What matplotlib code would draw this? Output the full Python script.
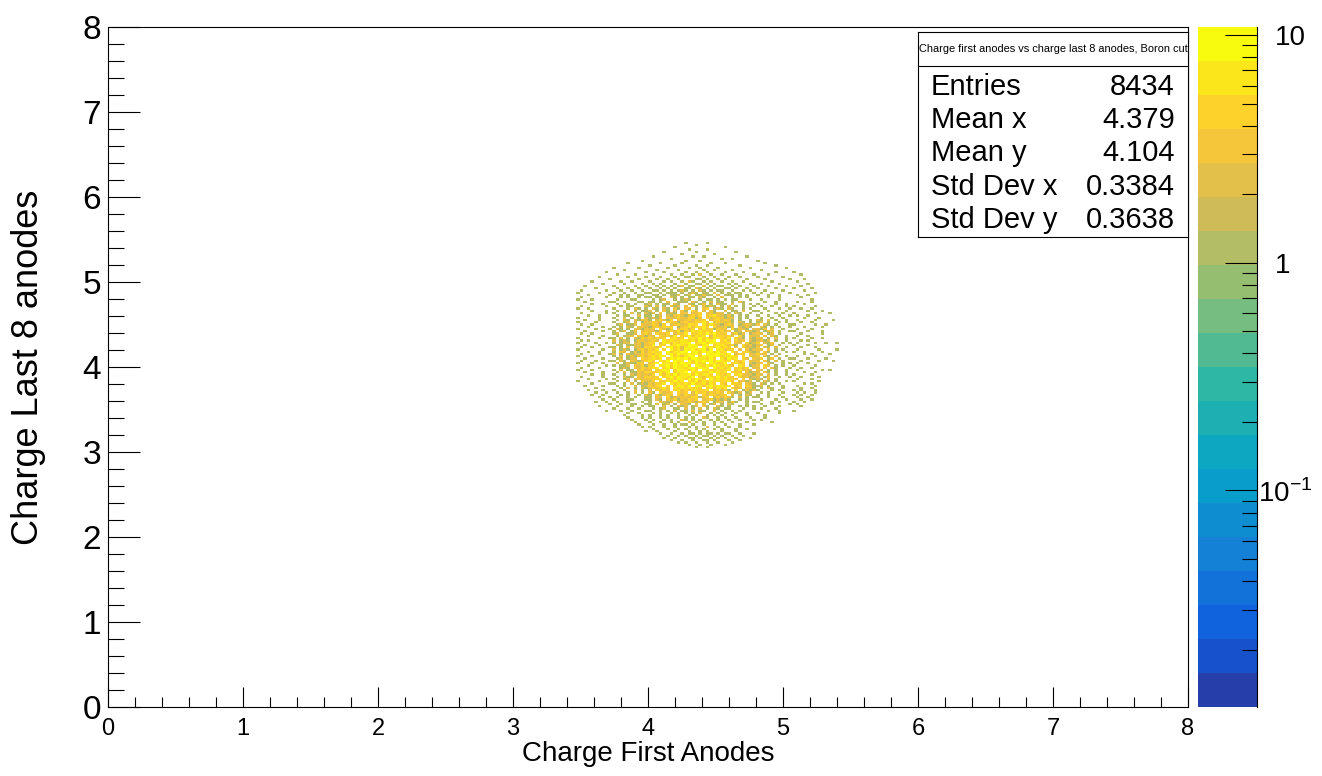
import numpy as np
import matplotlib
matplotlib.use("Agg")
import matplotlib.pyplot as plt
from matplotlib.colors import ListedColormap, BoundaryNorm
from matplotlib.ticker import FixedLocator, NullFormatter, MultipleLocator, LogLocator
from matplotlib.transforms import blended_transform_factory

plt.rcParams['font.family'] = ['Liberation Sans', 'DejaVu Sans']
plt.rcParams['mathtext.fontset'] = 'custom'
plt.rcParams['mathtext.rm'] = 'Liberation Sans'

# histogram definition (TH2: 300 x 300 bins on [0, 8] x [0, 8])
n_bins = 300
axis_range = (0.0, 8.0)
first_bin = 130      # x bin of the first column in count_rows
top_bin = 204        # y bin of the first row in count_rows
n_cols = 74

# bin contents, one string per y bin (top row first)
# '.' = empty, 1-9, a = 10 ; spaces only group the columns by ten
count_rows = [
    ".......... .......... .......... 1.....1",
    ".......... .......... .......... ...1",
    ".......... .......... .......1.. .......... .1",
    ".......... .......... .......... .1....1",
    ".......... .......... ....1..... ...1...... ....1",
    ".......... .......... .........1 ........1",
    ".......... .......... .1........ ..1..1.... .......1",
    ".......... .......... ......1... .......... 1..1",
    ".......... ........1. .......... 1...1..... .......... 1",
    ".......... ....1..... ...1.....1 .......1.. .1........ ..1",
    ".......... .......... 1......1.. ...1..1... .....1.... .....1",
    ".......... 1......1.. .....1.... .1..1....1 ........1. ........1",
    ".......... ...1...... ..1.....1. .....1..1. ...1...... .1",
    "........1. .........1 ....1..... 1..1..1... .1....1... .....1.... 1",
    ".......... .1....1... .1....1..1 ..1.2..1.. 1...1....1 ...1...... ..1",
    "......1... ....1....1 ...1...1.. 11...1..1. ..1..1.... 1......1",
    ".........1 .......1.. ..1..1..1. ...11.1..1 .1.....1.. ..1......1 ...1",
    "....1..... ..1..1.... 1...1.1..1 .21..1.1.. 1..1..1... ....1..... .1",
    ".......1.. ...1....1. .1.1...1.. 1..11.1.1. ..1.1...1. .1....1... ....1",
    "..1....... 1.....1..1 ..1.1.1.12 .11..2.1.1 1..1.1...1 ...1....1. ..1",
    ".....1.... .1..1..1.. 1..1.1.1.. 11.21.1.1. .11.1..1.. 1....1.... 1....1",
    ".1......1. ..1..1..1. .11.1.1.12 1.1.21.1.1 1..1..1.1. ..1....1.. ...1",
    "1.....1... 1..1..1..1 1..1.111.1 .121.11.2. 1.1.11...1 .1..1....1 ......1",
    "...1.....1 ..1.1..11. .11.1.112. 12.11311.2 .111.1.1.. 1..1..1... .1..1",
    ".1......1. ..1.1..1.1 1.11..21.1 .11.21..1. 2..1.1.1.. ...1..1... ..1",
    "1...1..... .1...11... .1.12..1.1 21..1.11.1 .1.11...1. .1....1... .....1",
    "..1......1 1..1...11. 11.1.2..11 1.21.1.2.1 1..1.21... ..1..1.... .1...1",
    "....1..1.. .1..1.1..1 2.1.11.21. .21.13.1.2 11.2..1.1. 1....1..1. ...1",
    ".1......1. ..1.11...2 1.2.1.312. 2.31.2121. 1.2.1.1..1 .1..1...1. 1.....1",
    "1..1...... 1...1.21.1 .21.21.31. 32.1.34.12 1.21..1.1. ..1...1..1 ..1..1",
    "....1...1. .1.2..1.11 2.1.31.2.3 1.42.2.31. .2.11.2..1 1..1....1. ....1...1",
    ".1......1. 1..1.2.1.2 12.3.121.3 3.234.2313 2.1.21..1. .1...1.1.. 1.....1... 1",
    "...1..1... .1.11..2.1 1.12.21342 13524.3463 2131.1.1.. 1..1..1..1 .1..1",
    "1.....1... 1..2.1.1.2 1213.32243 25413.5234 3122.1.1.. .1..1..1.. ...1...1",
    "..1...1... .1.21.2132 1.24214.32 352435.245 2431.1..1. 21.2.1..1. .1....1... .1",
    "1....1.... 1..12.2.13 2432.45313 4235463.24 3231.21.1. 12.1..1.1. ..1..1....",
    ".1..1..... .12.112.32 25314.2342 3654.63752 1342.12321 3.21.1...1 1.....1..1",
    "...1...1.. 1.1.21.232 1352454.13 5736465.52 2413.2131. .21.1.1..1 ...1....1.",
    "1....1...1 .21.1.2213 23.4214.35 425.363415 32.41321.2 213.2..1.. .1...1....",
    "..1....1.. 1.12.13.23 3214.25361 53647455.3 423.12.321 2.132.1..1 1...1...1.",
    ".1..1..... 12..112.34 2.5334.253 6.45758584 34.2513.12 32.12.1... ..1.....1.",
    "...1...1.. .1.122.331 32.43526.4 583647.265 4352.41.32 2.3.21..1. .1..1.....",
    "1.....1..1 1.2.1.2143 42534.4635 .674856376 536.421.21 32.1.2..1. 1....1..1.",
    ".1.1...... 2.121.1332 342.647557 756384968. 463.523.21 2312.1..1. ..1.1.....",
    "1....1..1. 1.122.2313 45.2663647 6a.4795876 546.32.412 4.213..1.1 .1....1..1 ..1",
    "..1...1... .21.112313 36.45.5786 58a6379.46 65341.4231 23.12.1... 1...1.....",
    ".1..1....1 1.1.3.2214 4536.68472 7968.a4758 564.3.4221 3.21.2..1. ..1...1...",
    "1......1.. 2.121.1342 536.4.8572 86a57928.6 6354.2.312 32.3.1.1.. .1.....1.. ..1",
    "...1..1... 1.32.13142 4657.83678 9.685a7948 57.63.5421 2.31.1..1. 1..1....1.",
    ".1....1..1 2.1.312243 5367.69486 7a695.879a 648.253.32 423.1.1... ...1.1.... 1",
    "1...1..... 1.2.131342 57486.9573 698.5a7869 47685.4.32 3.21.2..1. .1....1...",
    "..1....1.. .12.122.43 4657.49786 859a67485. 63857.42.3 24.13.1..1 1...1....1",
    ".1...1...1 1.21.32125 63.748.976 .95a786958 746.537.32 3.31.2.1.. ..1....1.. .1",
    "1...1..1.. .2.121143. 358.674958 784956.a74 58.4634.21 23.21..1.1 .1..1.....",
    "...1....1. 1.112.3241 54.6785976 85.9748597 4653.74.12 3.42.1.1.. 1.....1...",
    ".1....1... ..121.3243 476.493867 5a84967.85 637.4534.2 2.3.21...1 ..1..1....",
    "1...1..... 1.2.11.342 3.4587.586 7485.96457 546.37232. 32.1.1..1. .1......1. 1",
    "..1....1.. .1.2.11324 534758.476 9.46754966 47.543.312 2.31.1..1. ...1..1...",
    "....1..1.. 1..1.21323 25.7365857 68495764.7 536.473221 32.2.1..1. 1....1....",
    ".1.....1.. .1.211.324 435.478596 758.436758 4653.42312 2.13..1..1 ..1....1..",
    "...1....1. 1..12.2323 3546.57486 594865.846 57453.4.21 21.2.1.... .1...1....",
    "1.....1... .1..2.1.32 24.5374857 .648375647 4563.2312. 1.21.1..1. 1......1..",
    "....1....1 1..1.2.121 32546.7465 748547365. 53.453.321 .21.1.1... ...1.1....",
    "..1....1.. .1.1..2.12 4256.4.586 58.6736956 746.34.431 12.1...1.. .1....1...",
    ".....1.... ..1.2.1.21 253463.746 47564.5637 56.423.231 .1.21..1.. ..1..1....",
    "...1...1.. 1..1..2.1. 2.4253.463 5364547.34 251.4.1312 1...1.1... 1.1...1",
    ".....1..1. .1..1.2.1. 31.4235.43 4.26352534 3.4212.12. .1.1...1.. .1.1..1",
    "....1..1.. ..1.1..1.2 1.31243.52 4325.42452 34.2.1.21. 1..1..1... 1.1..1",
    "......1..1 .1..1.1..1 1.32.41223 3254135.24 2431.2.1.1 1..1...1.. .1..1",
    ".......1.. 1...11...1 1.21.32413 2534.23412 131..1.1.. .1...1..1. ..1..1",
    ".....1..1. .1..1...1. 1..3213.22 3421342.13 2.131..1.1 1...1.1... 1..1",
    ".........1 ..1..11..1 1.2.12.1.3 21.3.2.12. 1.21...1.. .1..1....1 .1",
    "......1... .1...1..1. 11..2.1.21 2.12.31..2 1.1..1.1.1 ..1...1... ..1",
    ".......... 1...1..1.. .1.12..11. 2.1.2.1.21 .11...1..1 .1...1....",
    "........1. ..1..1...1 1..1.1.2.1 1.2.11..2. 1..1.1.... ...1..1... 1",
    ".......... ....1..1.. .1.1..1.1. 1.1.2..1.1 .1..1..1.. 1.....1...",
    ".......... ...1....1. 1..1.1..1. .1.1..1.1. 1..1...1.. ..1.......",
    ".......... ....1...1. 1..1.1..1. 1.1..21..1 .1..1...1. ..1",
    ".......... .....1...1 .1..1.1..2 1.1.1..1.1 ..1..1...1 .1",
    ".......... ......1... 1..1..1.1. .2.1.1..1. 1..1...1.. ....1",
    ".......... .......1.. .1..1..1.1 1.1..1..1. .1...1...1",
    ".......... ........1. 1...1..1.. .1.1..2..1 ..1..1",
    ".......... .......... .1...1..1. 1..1.1..1. 1...1..1",
    ".......... .........1 ..1....1.. .1..1.1... 1...1",
    ".......... .......... ...1..1..1 .11.1.11.1 .11..1...1",
    ".......... .......... .....1..1. 1..1.11.1. 1..1..1",
    ".......... .......... ....1..1.. .11.1..1.1 .1..1...1",
    ".......... .......... ......1..1 ..1..11.1. ..1..1",
    ".......... .......... ........1. 1..1..1..1 ...1",
    ".......... .......... .......... .1..1..1.. .1",
    ".......... .......... .......... ...1..1",
]

# z axis (log) range and palette
z_min = 0.0112
z_max = 10.84
n_levels = 20
bird_stops = [0.0, 0.125, 0.25, 0.375, 0.5, 0.625, 0.75, 0.875, 1.0]
bird_red = [0.2082, 0.0592, 0.0780, 0.0232, 0.1802, 0.5301, 0.8186, 0.9956, 0.9764]
bird_green = [0.1664, 0.3599, 0.5041, 0.6419, 0.7178, 0.7492, 0.7328, 0.7862, 0.9832]
bird_blue = [0.5293, 0.8684, 0.8385, 0.7914, 0.6425, 0.4662, 0.3499, 0.1968, 0.0539]

# stats box
stats_title = "Charge first anodes vs charge last 8 anodes, Boron cut"
stats_names = ["Entries", "Mean x", "Mean y", "Std Dev x", "Std Dev y"]
stats_values = ["8434", "4.379", "4.104", "0.3384", "0.3638"]

x_title = "Charge First Anodes"
y_title = "Charge Last 8 anodes"
z_ticks = [0.1, 1, 10]
z_tick_labels = ["$10^{-1}$", "1", "10"]


def build_grid():
    grid = np.zeros((n_bins, n_bins))
    for k, row in enumerate(count_rows):
        cells = row.replace(" ", "").ljust(n_cols, ".")[:n_cols]
        j = top_bin - k
        for c, ch in enumerate(cells):
            if ch != ".":
                grid[j, first_bin + c] = int(ch, 16)
    return grid


grid = build_grid()
pos = [(i + 0.99) / n_levels for i in range(n_levels)]
colors = np.column_stack([np.interp(pos, bird_stops, bird_red),
                          np.interp(pos, bird_stops, bird_green),
                          np.interp(pos, bird_stops, bird_blue)])
cmap = ListedColormap(colors)
bounds = np.logspace(np.log10(z_min), np.log10(z_max), n_levels + 1)
norm = BoundaryNorm(bounds, n_levels)

fig = plt.figure(figsize=(13.22, 7.76), dpi=100)
ax = fig.add_axes([0.0817, 0.0889, 0.8169, 0.8763])
ax.imshow(np.ma.masked_equal(grid, 0), origin="lower",
          extent=[axis_range[0], axis_range[1], axis_range[0], axis_range[1]],
          aspect="auto", interpolation="nearest", cmap=cmap, norm=norm)
ax.set_xlim(*axis_range)
ax.set_ylim(*axis_range)

ax.xaxis.set_major_locator(MultipleLocator(1))
ax.xaxis.set_minor_locator(MultipleLocator(0.2))
ax.yaxis.set_major_locator(MultipleLocator(1))
ax.yaxis.set_minor_locator(MultipleLocator(0.2))
ax.tick_params(axis="both", which="both", direction="in", width=0.8,
               top=False, right=False)
ax.tick_params(axis="x", which="major", length=14.5, labelsize=17, pad=8)
ax.tick_params(axis="x", which="minor", length=7.2)
ax.tick_params(axis="y", which="major", length=23, labelsize=24, pad=5)
ax.tick_params(axis="y", which="minor", length=11.5)
for s in ax.spines.values():
    s.set_linewidth(0.8)

ax.set_xlabel(x_title, fontsize=20)
ax.xaxis.set_label_coords(0.5, -0.05)
ax.set_ylabel(y_title, fontsize=26)
ax.yaxis.set_label_coords(-0.0575, 0.5)

# palette
cax = fig.add_axes([0.9062, 0.0889, 0.0446, 0.8763])
cax.set_yscale("log")
mids = np.sqrt(bounds[:-1] * bounds[1:]).reshape(-1, 1)
cax.pcolormesh([0, 1], bounds, mids, cmap=cmap, norm=norm)
cax.set_xlim(0, 1)
cax.set_ylim(z_min, z_max)
cax.set_xticks([])
for side in ["left", "top", "bottom"]:
    cax.spines[side].set_visible(False)
cax.spines["right"].set_linewidth(0.8)
cax.yaxis.set_ticks_position("right")
cax.yaxis.set_major_locator(FixedLocator(z_ticks))
cax.yaxis.set_major_formatter(NullFormatter())
cax.yaxis.set_minor_locator(LogLocator(base=10, subs=range(2, 10)))
cax.yaxis.set_minor_formatter(NullFormatter())
cax.tick_params(axis="y", which="both", direction="in", width=0.8)
cax.tick_params(axis="y", which="major", length=23)
cax.tick_params(axis="y", which="minor", length=11)
label_x = [1.017, 1.30, 1.30]
ztrans = blended_transform_factory(cax.transAxes, cax.transData)
for v, lab, lx in zip(z_ticks, z_tick_labels, label_x):
    cax.text(lx, v, lab, transform=ztrans, ha="left", va="center_baseline",
             fontsize=20, clip_on=False)

# stats box
sax = fig.add_axes([0.6944, 0.6946, 0.2042, 0.2642])
sax.set_xticks([])
sax.set_yticks([])
sax.set_xlim(0, 1)
sax.set_ylim(0, 1)
for s in sax.spines.values():
    s.set_linewidth(0.8)
sax.axhline(0.834, color="black", lw=0.8)
sax.text(0.5, 0.917, stats_title, ha="center", va="center", fontsize=7.9)
row_y = [0.731, 0.570, 0.410, 0.244, 0.083]
for name, val, yy in zip(stats_names, stats_values, row_y):
    sax.text(0.048, yy, name, ha="left", va="center", fontsize=21)
    sax.text(0.952, yy, val, ha="right", va="center", fontsize=21)

fig.savefig("out.png", dpi=100)
